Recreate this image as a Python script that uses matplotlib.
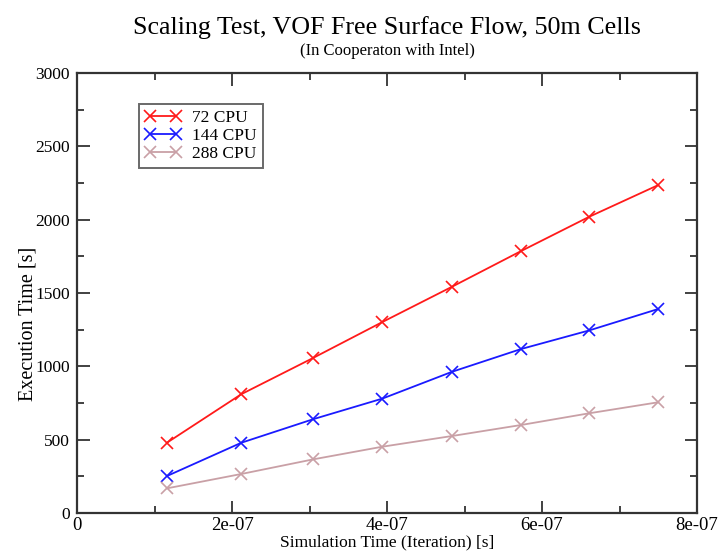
import matplotlib
matplotlib.use("Agg")
import matplotlib.pyplot as plt
from matplotlib.ticker import MultipleLocator, FuncFormatter

plt.rcParams["font.family"] = ["Liberation Serif", "DejaVu Serif"]

sim_time = [1.16e-7, 2.12e-7, 3.05e-7, 3.94e-7, 4.84e-7, 5.73e-7, 6.61e-7, 7.50e-7]
cpu72 = [479, 810, 1058, 1302, 1543, 1786, 2020, 2236]
cpu144 = [252, 479, 640, 780, 963, 1118, 1245, 1391]
cpu288 = [168, 266, 366, 452, 525, 600, 680, 755]

series = [
    ("72 CPU", cpu72, "#ff1a1a"),
    ("144 CPU", cpu144, "#1a1aff"),
    ("288 CPU", cpu288, "#c9a0a6"),
]

fig = plt.figure(figsize=(7.19, 5.53), dpi=100)
ax = fig.add_axes([77 / 719, 1 - 513 / 553, 620 / 719, 440 / 553])

for label, vals, color in series:
    ax.plot(sim_time, vals, color=color, lw=1.3, marker="x", ms=8.5, mew=1.2, label=label)

ax.set_xlim(0, 8e-7)
ax.set_ylim(0, 3000)
ax.xaxis.set_major_locator(MultipleLocator(2e-7))
ax.xaxis.set_minor_locator(MultipleLocator(1e-7))
ax.yaxis.set_major_locator(MultipleLocator(500))
ax.yaxis.set_minor_locator(MultipleLocator(250))


def fmt_x(v, pos):
    if abs(v) < 1e-12:
        return "0"
    return f"{v:.0e}"


ax.xaxis.set_major_formatter(FuncFormatter(fmt_x))

for side in ax.spines.values():
    side.set_linewidth(1.6)
    side.set_color("#333333")
ax.tick_params(which="both", direction="in", top=True, right=True, colors="#333333",
               labelcolor="black", width=1.3)
ax.tick_params(which="major", length=9)
ax.tick_params(which="minor", length=5)
ax.tick_params(axis="x", which="major", labelsize=13.5, pad=3)
ax.tick_params(axis="y", which="major", labelsize=12.5, pad=5)

ax.set_xlabel("Simulation Time (Iteration) [s]", fontsize=12.5, labelpad=0)
ax.set_ylabel("Execution Time [s]", fontsize=14.5)
ax.yaxis.set_label_coords(-0.064, 0.43)

leg = ax.legend(loc="upper left", bbox_to_anchor=(0.1, 0.93), borderaxespad=0,
                fancybox=False, numpoints=2, handlelength=2.1, fontsize=12.5,
                borderpad=0.35, labelspacing=0.1, handletextpad=0.6)
leg.get_frame().set_edgecolor("#444444")
leg.get_frame().set_linewidth(1.4)

cx = (77 + 697) / 2 / 719
fig.text(cx, 1 - 28 / 553, "Scaling Test, VOF Free Surface Flow, 50m Cells",
         ha="center", va="center", fontsize=18.7)
fig.text(cx, 1 - 51 / 553, "(In Cooperaton with Intel)", ha="center", va="center", fontsize=12)

fig.savefig("out.png", dpi=100)
